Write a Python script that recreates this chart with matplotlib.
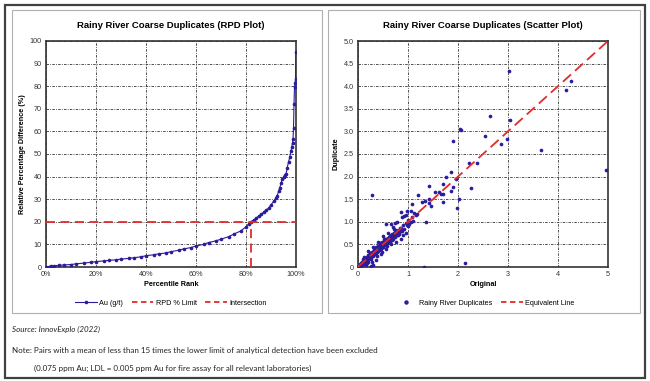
import matplotlib.pyplot as plt
from matplotlib.patches import Rectangle
from matplotlib.lines import Line2D

# RPD plot data: percentile rank (%) vs relative percentage difference (%)
pct_rank = [0, 1, 2, 3, 5, 7, 10, 12, 15, 18, 20, 23, 25, 28, 30, 33, 35, 38, 40, 43, 45,
            48, 50, 53, 55, 58, 60, 63, 65, 68, 70, 73, 75, 78, 80, 81, 82, 83, 84, 85, 86,
            87, 88, 89, 90, 91, 92, 92.5, 93, 93.5, 94, 94.5, 95, 95.5, 96, 96.5, 97, 97.5,
            98, 98.3, 98.6, 98.8, 99, 99.2, 99.4, 99.6, 99.8, 100]
rpd = [0, 0.2, 0.4, 0.5, 0.7, 0.9, 1.1, 1.4, 1.7, 2.1, 2.4, 2.7, 2.9, 3.2, 3.5, 3.8, 4.1, 4.5,
       5.0, 5.4, 5.8, 6.2, 6.8, 7.4, 8.0, 8.6, 9.3, 10.0, 10.8, 11.6, 12.3, 13.4, 14.5, 16.0,
       17.8, 19.0, 20.0, 20.8, 21.5, 22.5, 23.3, 24.2, 25.2, 26.0, 27.5, 29.0, 30.5, 31.5,
       33.5, 35.0, 37.0, 39.0, 39.8, 40.5, 41.0, 44.0, 46.5, 48.5, 51.5, 53.0, 55.0, 56.5,
       61.5, 72.0, 79.5, 81.5, 83.0, 95.0]
rpd_limit = 20
intersection_rank = 82

# Scatter plot data: original vs duplicate (g/t)
original = [0.02, 0.03, 0.04, 0.05, 0.06, 0.07, 0.08, 0.09, 0.10, 0.11, 0.12, 0.13, 0.14, 0.15,
            0.16, 0.17, 0.18, 0.19, 0.20, 0.21, 0.22, 0.23, 0.24, 0.25, 0.26, 0.27, 0.28, 0.29,
            0.30, 0.31, 0.32, 0.33, 0.34, 0.35, 0.36, 0.37, 0.38, 0.39, 0.40, 0.41, 0.42, 0.43,
            0.44, 0.45, 0.46, 0.47, 0.48, 0.49, 0.50, 0.51, 0.52, 0.53, 0.54, 0.55, 0.56, 0.57,
            0.58, 0.60, 0.61, 0.62, 0.63, 0.65, 0.66, 0.68, 0.70, 0.72, 0.74, 0.76, 0.78, 0.80,
            0.82, 0.85, 0.87, 0.90, 0.92, 0.95, 0.98, 1.00, 1.02, 1.05, 1.08, 1.10, 0.30, 0.25,
            0.35, 0.45, 0.55, 0.65, 0.75, 0.70, 0.60, 0.50, 0.40, 0.30, 0.20, 0.88, 0.95, 1.05,
            1.15, 0.85, 0.90, 0.95, 0.12, 0.18, 0.28, 0.38, 0.48, 0.58, 0.68, 0.15, 0.05, 0.10,
            0.33, 0.43, 0.53, 0.63, 0.73,
            0.04, 0.08, 0.12, 0.16, 0.20, 0.24, 0.28, 0.32, 0.36, 0.40, 0.44, 0.48, 0.52, 0.56,
            0.60, 0.64, 0.68, 0.72, 0.76, 0.80, 0.84, 0.06, 0.10, 0.14, 0.18, 0.22, 0.26, 0.30,
            0.34, 0.38, 0.42, 0.46, 0.50, 0.54, 0.58, 0.62, 0.66, 0.70, 0.74, 0.78, 0.82, 0.86,
            0.01, 0.03, 0.07, 0.11, 0.15, 0.19, 0.23, 0.27, 0.31, 0.35, 0.39, 0.43, 0.47, 0.51,
            0.55, 0.59, 0.63, 0.67, 0.71, 0.20, 0.24, 0.32, 0.36, 0.44, 0.52, 0.64, 0.72, 0.80,
            0.27, 3.01, 4.16, 4.26, 2.64, 3.03, 2.03, 2.05, 2.54, 1.89, 2.97, 2.86, 3.65, 4.95,
            2.21, 2.38, 2.25, 2.14, 1.31, 1.97, 2.02, 1.95, 1.86, 1.75, 1.89, 1.85, 1.70, 1.70,
            1.66, 1.69, 1.62, 1.41, 1.53, 1.42, 1.34, 1.46, 1.41, 1.20, 1.27, 1.35, 1.08, 1.18,
            0.97, 0.85, 0.55, 0.66, 0.74, 1.00, 1.12, 0.78, 0.92]
duplicate = [0.01, 0.05, 0.02, 0.08, 0.03, 0.10, 0.05, 0.12, 0.07, 0.14, 0.09, 0.17, 0.11, 0.20,
             0.13, 0.22, 0.15, 0.27, 0.17, 0.24, 0.19, 0.30, 0.21, 0.28, 0.18, 0.34, 0.24, 0.30,
             0.26, 0.38, 0.28, 0.35, 0.30, 0.42, 0.31, 0.39, 0.33, 0.46, 0.36, 0.44, 0.37, 0.50,
             0.40, 0.48, 0.41, 0.55, 0.44, 0.52, 0.45, 0.58, 0.48, 0.56, 0.50, 0.62, 0.52, 0.60,
             0.54, 0.64, 0.56, 0.66, 0.58, 0.70, 0.62, 0.72, 0.66, 0.76, 0.68, 0.80, 0.72, 0.78,
             0.74, 0.86, 0.80, 0.92, 0.85, 0.98, 0.92, 1.05, 0.95, 1.00, 1.10, 1.02, 0.05, 0.02,
             0.15, 0.28, 0.40, 0.50, 0.55, 0.88, 0.75, 0.68, 0.55, 0.45, 0.35, 1.10, 1.15, 1.25,
             1.15, 0.62, 0.70, 0.75, 0.22, 0.08, 0.12, 0.25, 0.34, 0.47, 0.60, 0.05, 0.00, 0.18,
             0.40, 0.52, 0.63, 0.68, 0.82,
             0.06, 0.10, 0.15, 0.19, 0.24, 0.27, 0.32, 0.35, 0.40, 0.43, 0.48, 0.51, 0.56, 0.59,
             0.63, 0.67, 0.71, 0.74, 0.79, 0.82, 0.86, 0.03, 0.07, 0.11, 0.14, 0.18, 0.22, 0.25,
             0.29, 0.33, 0.37, 0.40, 0.44, 0.48, 0.52, 0.55, 0.59, 0.63, 0.67, 0.70, 0.75, 0.80,
             0.03, 0.02, 0.09, 0.13, 0.17, 0.23, 0.26, 0.31, 0.34, 0.38, 0.43, 0.46, 0.50, 0.55,
             0.58, 0.62, 0.66, 0.70, 0.74, 0.12, 0.30, 0.38, 0.44, 0.54, 0.62, 0.58, 0.84, 0.70,
             1.60, 4.34, 3.91, 4.11, 3.35, 3.26, 3.05, 3.03, 2.90, 2.79, 2.84, 2.72, 2.59, 2.14,
             2.30, 2.31, 1.74, 0.08, 0.01, 1.31, 1.51, 1.94, 2.10, 1.99, 1.77, 1.68, 1.83, 1.62,
             1.61, 1.44, 1.67, 1.79, 1.65, 1.50, 1.45, 1.34, 1.42, 1.60, 1.43, 1.00, 1.40, 1.18,
             1.25, 1.22, 0.96, 0.96, 0.97, 0.90, 1.20, 1.00, 1.12]
equiv_line = [0, 5]

blue = '#2b1c9c'
red = '#e52a2a'
plt.rcParams['font.family'] = ['Liberation Sans', 'DejaVu Sans']

fig = plt.figure(figsize=(6.5, 3.81), dpi=100)
W, H = 650, 381

def fx(px):
    return px / W

def fy(py):
    return 1 - py / H

# outer frame and panel boxes
fig.patches.append(Rectangle((fx(5), fy(378)), (645 - 5) / W, (378 - 5) / H,
                             transform=fig.transFigure, fill=False, ec='#404040', lw=1.6))
for x0, x1 in [(12, 322), (328, 640)]:
    fig.patches.append(Rectangle((fx(x0), fy(313)), (x1 - x0) / W, (313 - 10) / H,
                                 transform=fig.transFigure, fill=False, ec='#b0b0b0', lw=0.8))

grid_kw = dict(color='#333333', linestyle=(0, (3, 1.5, 1, 1.5)), linewidth=0.6)

# ---- RPD plot ----
ax1 = fig.add_axes([fx(46), fy(267), (296 - 46) / W, (267 - 41) / H])
ax1.plot(pct_rank, rpd, color=blue, lw=0.8, marker='o', ms=1.6, zorder=3)
ax1.axhline(rpd_limit, color=red, lw=1.3, ls=(0, (5, 3)), zorder=4)
ax1.plot([intersection_rank, intersection_rank], [0, rpd_limit], color=red, lw=1.3,
         ls=(0, (5, 3)), zorder=4)
ax1.set_xlim(0, 100)
ax1.set_ylim(0, 100)
ax1.set_xticks(range(0, 101, 20))
ax1.set_xticklabels([f'{v}%' for v in range(0, 101, 20)])
ax1.set_yticks(range(0, 101, 10))
ax1.grid(True, **grid_kw)
ax1.set_title('Rainy River Coarse Duplicates (RPD Plot)', fontsize=6.8, fontweight='bold', pad=9)
ax1.set_xlabel('Percentile Rank', fontsize=5.2, fontweight='bold', labelpad=2)
ax1.set_ylabel('Relative Percentage Difference (%)', fontsize=5.2, fontweight='bold', labelpad=3)
h1 = [Line2D([], [], color=blue, lw=0.8, marker='o', ms=1.6),
      Line2D([], [], color=red, lw=1.3, ls=(0, (3, 2))),
      Line2D([], [], color=red, lw=1.3, ls=(0, (3, 2)))]
fig.legend(h1, ['Au (g/t)', 'RPD % Limit', 'Intersection'], loc='center',
           bbox_to_anchor=(fx(171), fy(303)), ncol=3, frameon=False, fontsize=5.2,
           handlelength=3, columnspacing=1.2, handletextpad=0.3)

# ---- Scatter plot ----
ax2 = fig.add_axes([fx(358), fy(267), (608 - 358) / W, (267 - 41) / H])
ax2.scatter(original, duplicate, s=7, color=blue, zorder=3, linewidths=0)
ax2.plot(equiv_line, equiv_line, color=red, lw=1.3, ls=(0, (6, 3)), zorder=4)
ax2.set_xlim(0, 5)
ax2.set_ylim(0, 5)
ax2.set_xticks(range(0, 6))
ax2.set_yticks([i * 0.5 for i in range(11)])
ax2.set_yticklabels(['0'] + [f'{i * 0.5:.1f}' for i in range(1, 11)])
ax2.grid(True, **grid_kw)
ax2.set_title('Rainy River Coarse Duplicates (Scatter Plot)', fontsize=6.8, fontweight='bold', pad=9)
ax2.set_xlabel('Original', fontsize=5.2, fontweight='bold', labelpad=2)
ax2.set_ylabel('Duplicate', fontsize=5.2, fontweight='bold', labelpad=3)
h2 = [Line2D([], [], color=blue, lw=0, marker='o', ms=2.2),
      Line2D([], [], color=red, lw=1.3, ls=(0, (3, 2)))]
fig.legend(h2, ['Rainy River Duplicates', 'Equivalent Line'], loc='center',
           bbox_to_anchor=(fx(485), fy(303)), ncol=2, frameon=False, fontsize=5.2,
           handlelength=3, columnspacing=1.2, handletextpad=0.3)

for ax in (ax1, ax2):
    ax.tick_params(labelsize=5.2, length=0, pad=3, colors='#333333')
    for s in ax.spines.values():
        s.set_color('#333333')
        s.set_linewidth(1.2)
    ax.set_axisbelow(True)

# footnotes
note_kw = dict(fontsize=5.8, family=['Lato', 'DejaVu Sans'], va='center', color='#222222')
fig.text(fx(12), fy(329), 'Source: InnovExplo (2022)', style='italic', **note_kw)
fig.text(fx(12), fy(350), 'Note: Pairs with a mean of less than 15 times the lower limit of '
         'analytical detection have been excluded', **note_kw)
fig.text(fx(34), fy(368), '(0.075 ppm Au; LDL = 0.005 ppm Au for fire assay for all relevant '
         'laboratories)', **note_kw)

fig.savefig('out.png', dpi=100)
